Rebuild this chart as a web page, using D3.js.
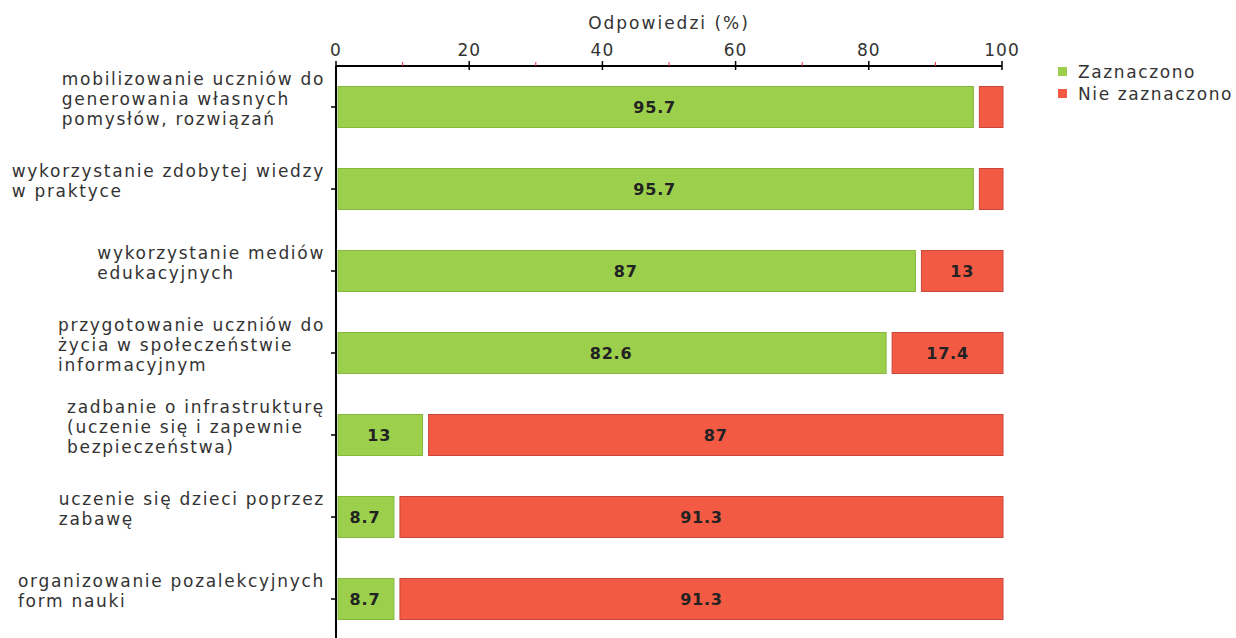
<!DOCTYPE html>
<html>
<head>
<meta charset="utf-8">
<script src="https://cdn.jsdelivr.net/npm/d3@7"></script>
<style>
  body { margin: 0; background: #fff; }
  svg { font-family: "DejaVu Sans", Verdana, sans-serif; }
</style>
</head>
<body>
<svg id="chart" width="1236" height="638"></svg>
<script>
// chart data
const categories = [
    ["mobilizowanie uczniów do", "generowania własnych", "pomysłów, rozwiązań"],
    ["wykorzystanie zdobytej wiedzy", "w praktyce"],
    ["wykorzystanie mediów", "edukacyjnych"],
    ["przygotowanie uczniów do", "życia w społeczeństwie", "informacyjnym"],
    ["zadbanie o infrastrukturę", "(uczenie się i zapewnie", "bezpieczeństwa)"],
    ["uczenie się dzieci poprzez", "zabawę"],
    ["organizowanie pozalekcyjnych", "form nauki"]
];
const zaznaczono = [95.7, 95.7, 87, 82.6, 13, 8.7, 8.7];
const nieZaznaczono = [4.3, 4.3, 13, 17.4, 87, 91.3, 91.3];
const seriesNames = ["Zaznaczono", "Nie zaznaczono"];
const majorTicks = [0, 20, 40, 60, 80, 100];
const minorTicks = [10, 30, 50, 70, 90];

const colors = { green: "#9bcf4c", greenStroke: "#86b83e", red: "#f25a44", redStroke: "#c9463a" };

const svg = d3.select("#chart");
const keys = categories.map((c, i) => i);

const x = d3.scaleLinear().domain([0, 100]).range([336, 1002]);
const y = d3.scaleBand().domain(keys).range([66, 640])
    .paddingInner(0.5).paddingOuter(0.25);

// axis title
svg.append("text")
    .attr("x", x(50))
    .attr("y", 29)
    .attr("text-anchor", "middle")
    .attr("font-size", "17px")
    .attr("letter-spacing", "2px")
    .attr("fill", "#333")
    .text("Odpowiedzi (%)");

// top axis
const topAxis = svg.append("g");
topAxis.append("line")
    .attr("x1", x(0)).attr("x2", x(100))
    .attr("y1", 66).attr("y2", 66)
    .attr("stroke", "#000").attr("stroke-width", 2);
topAxis.selectAll(".major")
    .data(majorTicks)
    .enter().append("line")
    .attr("x1", d => x(d)).attr("x2", d => x(d))
    .attr("y1", 61).attr("y2", 70)
    .attr("stroke", "#000").attr("stroke-width", 1.5);
topAxis.selectAll(".minor")
    .data(minorTicks)
    .enter().append("line")
    .attr("x1", d => x(d)).attr("x2", d => x(d))
    .attr("y1", 62).attr("y2", 66)
    .attr("stroke", "#e0303a").attr("stroke-width", 1);
topAxis.selectAll(".lbl")
    .data(majorTicks)
    .enter().append("text")
    .attr("x", d => x(d))
    .attr("y", 56)
    .attr("text-anchor", "middle")
    .attr("font-size", "17px")
    .attr("letter-spacing", "1px")
    .attr("fill", "#333")
    .text(d => d);

// left axis
svg.append("line")
    .attr("x1", x(0)).attr("x2", x(0))
    .attr("y1", 66).attr("y2", 638)
    .attr("stroke", "#000").attr("stroke-width", 2);
svg.selectAll(".ytick")
    .data(keys)
    .enter().append("line")
    .attr("x1", x(0) - 5).attr("x2", x(0))
    .attr("y1", d => y(d) + y.bandwidth() / 2)
    .attr("y2", d => y(d) + y.bandwidth() / 2)
    .attr("stroke", "#000").attr("stroke-width", 1.5);

// category labels: block right edge at 325, lines left-aligned
const lineH = 20;
keys.forEach(i => {
    const lines = categories[i];
    const cy = y(i) + y.bandwidth() / 2 - 8;
    const g = svg.append("g");
    const texts = g.selectAll("text")
        .data(lines)
        .enter().append("text")
        .attr("y", (d, j) => cy + (j - (lines.length - 1) / 2) * lineH + 6)
        .attr("font-size", "17px")
        .attr("letter-spacing", "1.7px")
        .attr("fill", "#333")
        .text(d => d);
    let maxW = 0;
    texts.each(function () { maxW = Math.max(maxW, this.getComputedTextLength()); });
    texts.attr("x", 325 - maxW);
});

// bars
const rows = svg.selectAll(".row")
    .data(keys)
    .enter().append("g");

rows.append("rect")
    .attr("x", x(0) + 2)
    .attr("y", d => y(d))
    .attr("width", d => x(zaznaczono[d]) - x(0) - 2)
    .attr("height", y.bandwidth())
    .attr("fill", colors.green)
    .attr("stroke", colors.greenStroke);

rows.append("rect")
    .attr("x", d => x(zaznaczono[d]) + 6)
    .attr("y", d => y(d))
    .attr("width", d => x(100) - x(zaznaczono[d]) - 5)
    .attr("height", y.bandwidth())
    .attr("fill", colors.red)
    .attr("stroke", colors.redStroke);

rows.append("text")
    .attr("x", d => (x(0) + x(zaznaczono[d])) / 2)
    .attr("y", d => y(d) + y.bandwidth() / 2 + 6)
    .attr("text-anchor", "middle")
    .attr("font-size", "16px")
    .attr("font-weight", "bold")
    .attr("letter-spacing", "0.8px")
    .attr("fill", "#222")
    .text(d => zaznaczono[d]);

rows.filter(d => x(100) - x(zaznaczono[d]) > 40)
    .append("text")
    .attr("x", d => (x(zaznaczono[d]) + 6 + x(100) + 1) / 2)
    .attr("y", d => y(d) + y.bandwidth() / 2 + 6)
    .attr("text-anchor", "middle")
    .attr("font-size", "16px")
    .attr("font-weight", "bold")
    .attr("letter-spacing", "0.8px")
    .attr("fill", "#222")
    .text(d => nieZaznaczono[d]);

// legend
const legend = svg.append("g").attr("transform", "translate(1058, 67)");
const items = legend.selectAll("g")
    .data(seriesNames)
    .enter().append("g")
    .attr("transform", (d, i) => `translate(0, ${i * 22})`);
items.append("rect")
    .attr("width", 9).attr("height", 9)
    .attr("fill", (d, i) => i === 0 ? colors.green : colors.red);
items.append("text")
    .attr("x", 20)
    .attr("y", 11)
    .attr("font-size", "17px")
    .attr("letter-spacing", "1.6px")
    .attr("fill", "#333")
    .text(d => d);
</script>
</body>
</html>
